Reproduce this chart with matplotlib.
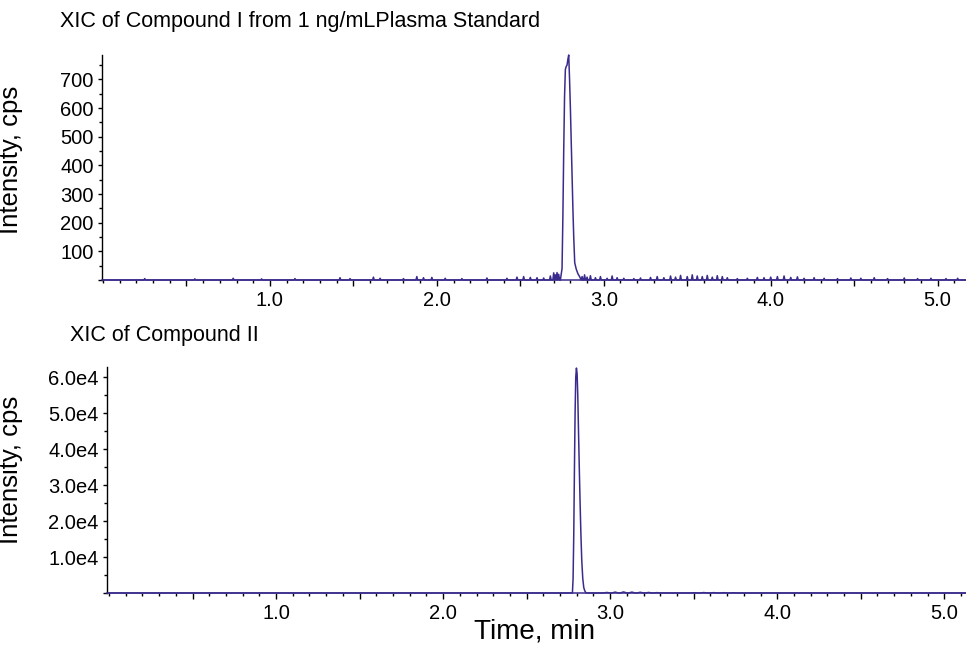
import matplotlib
matplotlib.use("Agg")
import matplotlib.pyplot as plt
from matplotlib.ticker import FixedLocator, FixedFormatter, MultipleLocator

plt.rcParams['font.family'] = ['Liberation Sans', 'DejaVu Sans']

# ---------------- data ----------------
title_top = "XIC of Compound I from 1 ng/mLPlasma Standard"
title_bottom = "XIC of Compound II"
ylabel = "Intensity, cps"
xlabel = "Time, min"

x_ticks = [1.0, 2.0, 3.0, 4.0, 5.0]
x_tick_labels = ["1.0", "2.0", "3.0", "4.0", "5.0"]

top_y_ticks = [100, 200, 300, 400, 500, 600, 700]
top_y_tick_labels = ["100", "200", "300", "400", "500", "600", "700"]
bot_y_ticks = [10000, 20000, 30000, 40000, 50000, 60000]
bot_y_tick_labels = ["1.0e4", "2.0e4", "3.0e4", "4.0e4", "5.0e4", "6.0e4"]

# Compound I peak profile (time, cps)
top_peak_t = [2.740, 2.750, 2.755, 2.760, 2.765, 2.770, 2.775, 2.780, 2.785,
              2.790, 2.795, 2.800, 2.805, 2.810, 2.815, 2.820, 2.826, 2.835,
              2.845, 2.855]
top_peak_v = [0, 40, 220, 450, 640, 735, 745, 750, 770,
              785, 700, 600, 480, 360, 250, 150, 60, 38,
              22, 12]

# Compound I baseline noise spikes (time, cps)
top_noise_t = [0.25, 0.55, 0.78, 0.95, 1.15, 1.42, 1.48, 1.62, 1.66, 1.80,
               1.88, 1.92, 1.97, 2.05, 2.15, 2.30, 2.42, 2.48, 2.52, 2.56,
               2.60, 2.64, 2.68, 2.700, 2.710, 2.720, 2.730,
               2.870, 2.885, 2.900, 2.920, 2.950, 2.980, 3.020, 3.050, 3.080,
               3.120, 3.180, 3.220, 3.280, 3.320, 3.360, 3.400, 3.430, 3.460,
               3.500, 3.530, 3.560, 3.590, 3.620, 3.650, 3.680, 3.710, 3.740,
               3.800, 3.860, 3.920, 3.960, 4.000, 4.040, 4.080, 4.120, 4.160,
               4.200, 4.260, 4.320, 4.400, 4.480, 4.540, 4.620, 4.700, 4.800,
               4.880, 4.960, 5.050, 5.120]
top_noise_v = [5, 4, 6, 4, 5, 8, 5, 10, 6, 5,
               12, 8, 9, 6, 5, 7, 6, 10, 12, 9,
               8, 7, 14, 25, 18, 26, 20,
               12, 18, 10, 15, 8, 12, 6, 14, 8,
               6, 5, 7, 9, 12, 8, 14, 10, 16,
               12, 18, 14, 12, 16, 10, 15, 12, 8,
               5, 6, 9, 8, 10, 12, 14, 9, 11,
               6, 8, 6, 5, 7, 6, 8, 5, 7,
               5, 6, 5, 6]

# Compound II peak profile (time, cps)
bot_peak_t = [2.774, 2.778, 2.782, 2.786, 2.790, 2.794, 2.798, 2.802, 2.806,
              2.810, 2.815, 2.820, 2.825, 2.830, 2.836, 2.842, 2.848, 2.856]
bot_peak_v = [0, 4000, 16000, 34000, 50000, 60000, 62500, 61000, 55000,
              46000, 35000, 25000, 16000, 9000, 4000, 1500, 600, 0]

# Compound II small post-peak bumps (time, cps)
bot_noise_t = [2.98, 3.03, 3.08, 3.13, 3.18, 3.23, 3.28, 3.50, 3.56, 3.62, 3.68, 3.74]
bot_noise_v = [150, 250, 300, 250, 200, 150, 100, 80, 120, 100, 90, 60]

line_color = "#3a2c8c"


def build_trace(peak_t, peak_v, noise_t, noise_v, t_start, t_end, half_width):
    pts = [(t_start, 0.0), (t_end, 0.0)]
    for t, v in zip(peak_t, peak_v):
        pts.append((t, v))
    for t, v in zip(noise_t, noise_v):
        pts.append((t - half_width, 0.0))
        pts.append((t, v))
        pts.append((t + half_width, 0.0))
    pts.sort(key=lambda p: p[0])
    return [p[0] for p in pts], [p[1] for p in pts]


fig = plt.figure(figsize=(9.66, 6.46), dpi=100)

ax1 = fig.add_axes([102 / 966, 1 - 280 / 646, (966 - 102) / 966, 225 / 646])
ax2 = fig.add_axes([107 / 966, 1 - 593 / 646, (966 - 107) / 966, 226 / 646])

t1, v1 = build_trace(top_peak_t, top_peak_v, top_noise_t, top_noise_v, 0.0, 5.2, 0.005)
t2, v2 = build_trace(bot_peak_t, bot_peak_v, bot_noise_t, bot_noise_v, 0.0, 5.2, 0.02)

ax1.plot(t1, v1, color=line_color, lw=1.1, clip_on=False)
ax2.plot(t2, v2, color=line_color, lw=1.1, clip_on=False)

ax1.set_xlim(-0.006, 5.17)
ax2.set_xlim(-0.012, 5.13)
ax1.set_ylim(0, 785)
ax2.set_ylim(0, 62800)

for ax, yt, ytl, ylab_y in ((ax1, top_y_ticks, top_y_tick_labels, 160),
                            (ax2, bot_y_ticks, bot_y_tick_labels, 470)):
    for s in ("top", "right"):
        ax.spines[s].set_visible(False)
    ax.spines["left"].set_linewidth(1.0)
    ax.spines["bottom"].set_linewidth(1.1)
    ax.spines["bottom"].set_color(line_color)
    half = [0.5, 1.5, 2.5, 3.5, 4.5]
    xt_all = sorted(x_ticks + half)
    xl_all = [x_tick_labels[x_ticks.index(x)] if x in x_ticks else "" for x in xt_all]
    ax.xaxis.set_major_locator(FixedLocator(xt_all))
    ax.xaxis.set_major_formatter(FixedFormatter(xl_all))
    ax.xaxis.set_minor_locator(MultipleLocator(0.1))
    ax.tick_params(axis="x", which="major", direction="out", length=4, width=1,
                   labelsize=14.5, pad=4)
    ax.tick_params(axis="x", which="minor", direction="out", length=2, width=1)
    yt_all = [0] + yt
    ax.yaxis.set_major_locator(FixedLocator(yt_all))
    ax.yaxis.set_major_formatter(FixedFormatter([""] + ytl))
    ax.yaxis.set_minor_locator(MultipleLocator(yt[0] / 2))
    ax.tick_params(axis="y", which="major", direction="out", length=3, width=1,
                   labelsize=14.5, pad=3)
    ax.tick_params(axis="y", which="minor", direction="out", length=2, width=1)
    ax.set_ylabel(ylabel, fontsize=18.5)
    ax.yaxis.set_label_coords(23 / 966, 1 - ylab_y / 646, transform=fig.transFigure)

fig.text(60 / 966, 1 - 21 / 646, title_top, fontsize=15.5, ha="left", va="center")
fig.text(70 / 966, 1 - 336 / 646, title_bottom, fontsize=15.5, ha="left", va="center")
fig.text(535 / 966, 1 - 632 / 646, xlabel, fontsize=20, ha="center", va="center")

fig.savefig("out.png", dpi=100)
